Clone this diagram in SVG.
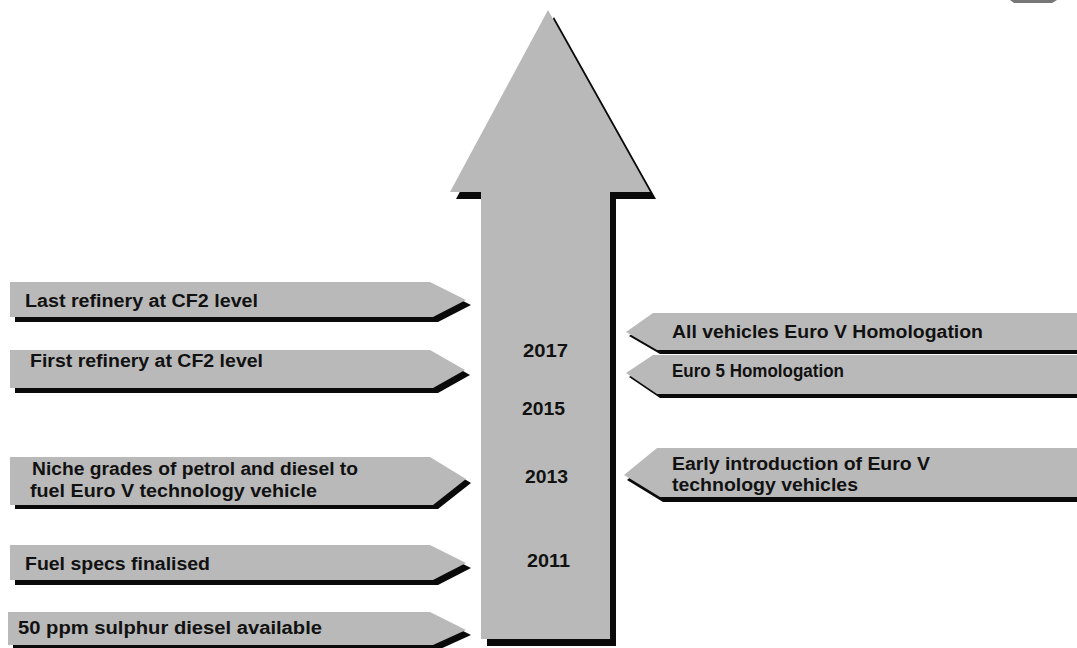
<svg xmlns="http://www.w3.org/2000/svg" width="1077" height="648" viewBox="0 0 1077 648">
<style>
.bg{fill:#ffffff}
.face{fill:#b9b9b9}
.shadow{fill:#0a0a0a}
.lbl{font-family:"Liberation Sans",Arial,sans-serif;font-weight:bold;font-size:17.5px;fill:#111111}
.yr{font-family:"Liberation Sans",Arial,sans-serif;font-weight:bold;font-size:18px;fill:#111111}
</style>
<rect class="bg" x="0" y="0" width="1077" height="648"/>
<polygon points="1010,0 1057,0 1052,3 1014,3" fill="#777777"/>

<g id="timeline-arrow">
  <polygon class="shadow" transform="translate(6,7)" points="548,10 650,192 610,192 610,639 481,639 481,192 450,192"/>
  <polygon class="face" points="548,10 650,192 610,192 610,639 481,639 481,192 450,192"/>
  <text class="yr" x="523" y="357" textLength="45" lengthAdjust="spacingAndGlyphs">2017</text>
  <text class="yr" x="522" y="415" textLength="43" lengthAdjust="spacingAndGlyphs">2015</text>
  <text class="yr" x="525" y="483" textLength="43" lengthAdjust="spacingAndGlyphs">2013</text>
  <text class="yr" x="527" y="567" textLength="43" lengthAdjust="spacingAndGlyphs">2011</text>
</g>

<g id="connectors"></g>

<g id="last-refinery">
  <polygon class="shadow" transform="translate(5,5)" points="10,282 430,282 466,300 433,317 10,317"/>
  <polygon class="face" points="10,282 430,282 466,300 433,317 10,317"/>
  <text class="lbl" x="25" y="307" textLength="233" lengthAdjust="spacingAndGlyphs">Last refinery at CF2 level</text>
</g>

<g id="first-refinery">
  <polygon class="shadow" transform="translate(5,5)" points="10,350 430,350 465,370 433,388 10,388"/>
  <polygon class="face" points="10,350 430,350 465,370 433,388 10,388"/>
  <text class="lbl" x="30" y="367" textLength="233" lengthAdjust="spacingAndGlyphs">First refinery at CF2 level</text>
</g>

<g id="niche-grades">
  <polygon class="shadow" transform="translate(5,4)" points="10,457 430,457 466,479 433,505 10,505"/>
  <polygon class="face" points="10,457 430,457 466,479 433,505 10,505"/>
  <text class="lbl" x="32" y="475" textLength="326" lengthAdjust="spacingAndGlyphs">Niche grades of petrol and diesel to</text>
  <text class="lbl" x="30" y="497" textLength="287" lengthAdjust="spacingAndGlyphs">fuel Euro V technology vehicle</text>
</g>

<g id="fuel-specs">
  <polygon class="shadow" transform="translate(5,5)" points="10,545 430,545 466,563 433,580 10,580"/>
  <polygon class="face" points="10,545 430,545 466,563 433,580 10,580"/>
  <text class="lbl" x="25" y="570" textLength="185" lengthAdjust="spacingAndGlyphs">Fuel specs finalised</text>
</g>

<g id="sulphur-diesel">
  <polygon class="shadow" transform="translate(5,5)" points="8,612 430,612 466,630 433,645 8,645"/>
  <polygon class="face" points="8,612 430,612 466,630 433,645 8,645"/>
  <text class="lbl" x="18" y="634" textLength="304" lengthAdjust="spacingAndGlyphs">50 ppm sulphur diesel available</text>
</g>

<g id="all-vehicles">
  <polygon class="shadow" transform="translate(3,4)" points="1085,313 653,313 626,332 657,350 1085,350"/>
  <polygon class="face" points="1085,313 653,313 626,332 657,350 1085,350"/>
  <text class="lbl" x="672" y="338" textLength="311" lengthAdjust="spacingAndGlyphs">All vehicles Euro V Homologation</text>
</g>

<g id="euro5">
  <polygon class="shadow" transform="translate(3,4)" points="1085,355 653,355 626,373 657,394 1085,394"/>
  <polygon class="face" points="1085,355 653,355 626,373 657,394 1085,394"/>
  <text class="lbl" x="672" y="377" font-size="16.5" textLength="172" lengthAdjust="spacingAndGlyphs">Euro 5 Homologation</text>
</g>

<g id="early-introduction">
  <polygon class="shadow" transform="translate(3,5)" points="1085,448 657,448 624,475 660,497 1085,497"/>
  <polygon class="face" points="1085,448 657,448 624,475 660,497 1085,497"/>
  <text class="lbl" x="672" y="470" textLength="258" lengthAdjust="spacingAndGlyphs">Early introduction of Euro V</text>
  <text class="lbl" x="672" y="491" textLength="186" lengthAdjust="spacingAndGlyphs">technology vehicles</text>
</g>
</svg>
